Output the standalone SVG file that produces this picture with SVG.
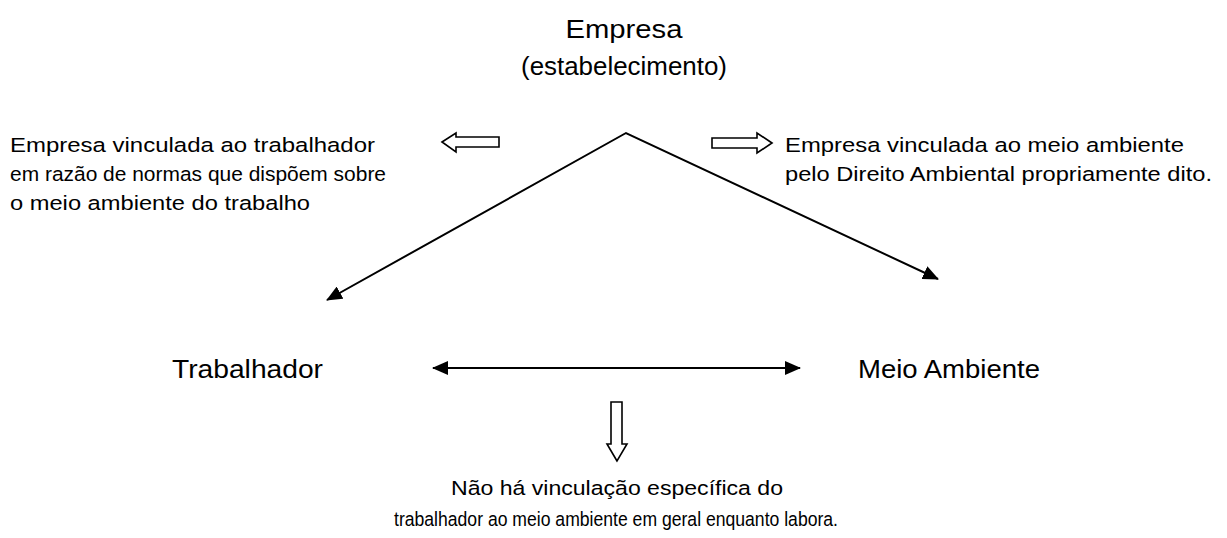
<svg xmlns="http://www.w3.org/2000/svg" width="1227" height="538" viewBox="0 0 1227 538">
<style>
text{font-family:"Liberation Sans",Arial,sans-serif;fill:#000}
.big{font-size:25px}
.small{font-size:20.5px}
.ln{stroke:#000;stroke-width:2;fill:none}
.blk{stroke:#000;stroke-width:1.6;fill:#fff;stroke-linejoin:miter}
</style>
<defs>
<marker id="ah" viewBox="0 0 16 14" refX="15" refY="7" markerWidth="16" markerHeight="14" markerUnits="userSpaceOnUse" orient="auto-start-reverse">
<path d="M0,0 L16,7 L0,14 z" fill="#000"/>
</marker>
</defs>
<g id="empresa">
<text class="big" x="624" y="38" text-anchor="middle" textLength="117" lengthAdjust="spacingAndGlyphs">Empresa</text>
<text class="big" x="624" y="75" text-anchor="middle" textLength="206" lengthAdjust="spacingAndGlyphs">(estabelecimento)</text>
</g>
<g id="nota-esquerda">
<text class="small" x="10" y="152" textLength="365" lengthAdjust="spacingAndGlyphs">Empresa vinculada ao trabalhador</text>
<text class="small" x="10" y="181" textLength="376" lengthAdjust="spacingAndGlyphs">em razão de normas que dispõem sobre</text>
<text class="small" x="10" y="210" textLength="300" lengthAdjust="spacingAndGlyphs">o meio ambiente do trabalho</text>
</g>
<g id="nota-direita">
<text class="small" x="785" y="152" textLength="399" lengthAdjust="spacingAndGlyphs">Empresa vinculada ao meio ambiente</text>
<text class="small" x="785" y="181" textLength="427" lengthAdjust="spacingAndGlyphs">pelo Direito Ambiental propriamente dito.</text>
</g>
<g id="trabalhador">
<text class="big" x="172" y="378" textLength="151" lengthAdjust="spacingAndGlyphs">Trabalhador</text>
</g>
<g id="meio-ambiente">
<text class="big" x="858" y="378" textLength="182" lengthAdjust="spacingAndGlyphs">Meio Ambiente</text>
</g>
<g id="nota-inferior">
<text class="small" x="617" y="495" text-anchor="middle" textLength="332" lengthAdjust="spacingAndGlyphs">Não há vinculação específica do</text>
<text class="small" x="616" y="526" text-anchor="middle" textLength="444" lengthAdjust="spacingAndGlyphs">trabalhador ao meio ambiente em geral enquanto labora.</text>
</g>
<g id="conectores">
<path class="ln" d="M327,300 L626,133 L938,279" marker-start="url(#ah)" marker-end="url(#ah)"/>
<line class="ln" x1="433" y1="368" x2="800" y2="368" marker-start="url(#ah)" marker-end="url(#ah)"/>
<path class="blk" d="M442,142 L456,133 L456,137 L499,137 L499,147 L456,147 L456,152 z"/>
<path class="blk" d="M772,143 L757,133 L757,138 L712,138 L712,148 L757,148 L757,153 z"/>
<path class="blk" d="M617,461 L607,444 L611,444 L611,402 L622,402 L622,444 L627,444 z"/>
</g>
</svg>
